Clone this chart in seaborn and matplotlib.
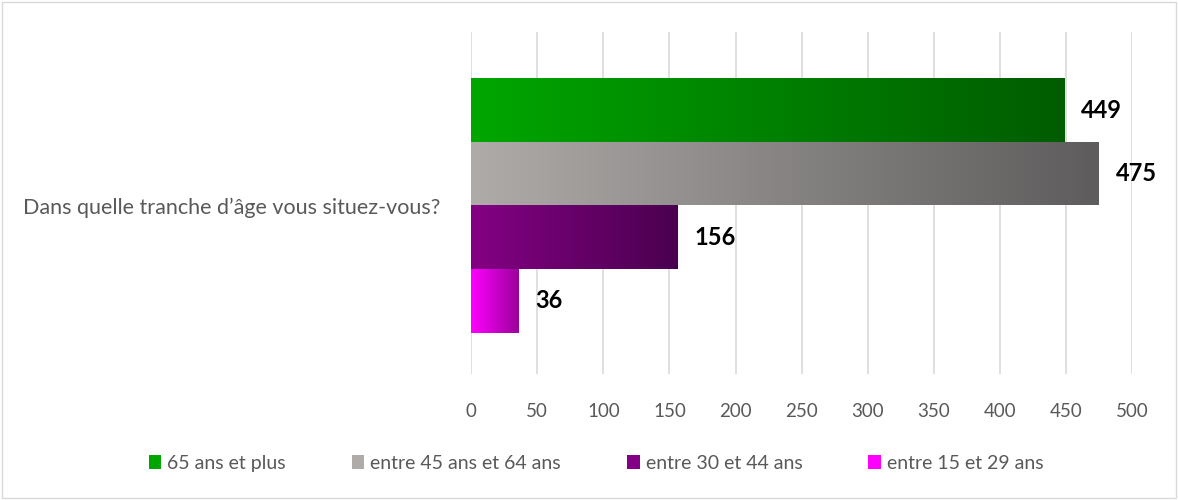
import numpy as np
import pandas as pd
import seaborn as sns
import matplotlib.pyplot as plt
from matplotlib.patches import Patch, Rectangle
from matplotlib.colors import LinearSegmentedColormap

question = ["Dans quelle tranche d\u2019âge vous situez-vous?"]
groups = ["65 ans et plus", "entre 45 ans et 64 ans", "entre 30 et 44 ans", "entre 15 et 29 ans"]
values = [449, 475, 156, 36]
# gradient start / end colours for each group
grad_start = ["#00A600", "#AEABA9", "#840084", "#FF00FF"]
grad_end = ["#005C00", "#5E5C5C", "#4A004F", "#9A009A"]

df = pd.DataFrame({"question": question * len(groups), "groupe": groups, "n": values})

sns.set_style("white")
plt.rcParams["font.family"] = ["Lato", "DejaVu Sans"]

fig = plt.figure(figsize=(11.78, 5), dpi=100)
ax = fig.add_axes([0.400, 0.252, 0.561, 0.684])

sns.barplot(data=df, y="question", x="n", hue="groupe", orient="h",
            hue_order=groups, palette=grad_start, width=0.743, ax=ax, legend=False)

ax.set_xlim(0, 500)
ax.set_xticks(np.arange(0, 501, 50))
ax.xaxis.grid(True, color="#D9D9D9", linewidth=1.2)
ax.set_axisbelow(True)
for s in ax.spines.values():
    s.set_visible(False)
ax.tick_params(axis="x", length=7, width=1.2, color="#D9D9D9", labelsize=13.5,
               labelcolor="#595959", pad=14)
ax.tick_params(axis="y", length=0, labelsize=15.5, labelcolor="#595959", pad=22)
ax.set_xlabel("")
ax.set_ylabel("")

# replace flat fills with horizontal gradients
for i, cont in enumerate(ax.containers):
    cmap = LinearSegmentedColormap.from_list(f"g{i}", [grad_start[i], grad_end[i]])
    for bar in cont:
        x0, y0 = bar.get_x(), bar.get_y()
        w, h = bar.get_width(), bar.get_height()
        bar.set_facecolor("none")
        bar.set_edgecolor("none")
        im = ax.imshow(np.linspace(0, 1, 256).reshape(1, -1), cmap=cmap, aspect="auto",
                       extent=[x0, x0 + w, y0 + h, y0], zorder=2)
        im.set_clip_path(bar)
    ax.bar_label(cont, padding=12, fontsize=17, fontweight="bold", color="black")

ax.set_xlim(0, 500)
ax.set_ylim(0.4927, -0.5073)

handles = [Patch(facecolor=c, edgecolor="none") for c in grad_start]
fig.legend(handles, groups, loc="center", bbox_to_anchor=(0.506, 0.073), ncol=4,
           frameon=False, fontsize=14, labelcolor="#595959", handlelength=0.65,
           handleheight=0.75, handletextpad=0.3, columnspacing=3.4)

fig.patches.append(Rectangle((0.002, 0.004), 0.996, 0.992, transform=fig.transFigure,
                             fill=False, edgecolor="#D9D9D9", linewidth=1))

fig.savefig("out.png", dpi=100)
